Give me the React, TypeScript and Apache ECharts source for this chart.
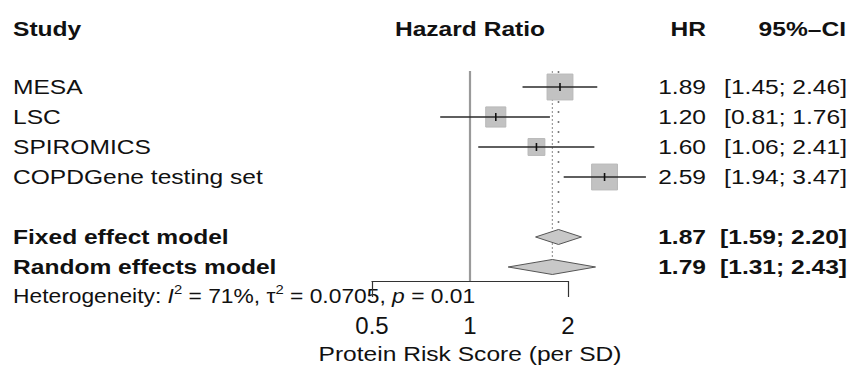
import React, { useEffect, useRef } from "react";
import * as echarts from "echarts";

const studies = ["MESA", "LSC", "SPIROMICS", "COPDGene testing set"];
const studyHR = [1.89, 1.2, 1.6, 2.59];
const studyLower = [1.45, 0.81, 1.06, 1.94];
const studyUpper = [2.46, 1.76, 2.41, 3.47];
const studyWeights = [33, 20, 14, 33];

const models = ["Fixed effect model", "Random effects model"];
const modelHR = [1.87, 1.79];
const modelLower = [1.59, 1.31];
const modelUpper = [2.2, 2.43];

const xTicks = [0.5, 1, 2];
const tickMarks = [0.5, 2];
const hetI2 = "71%";
const hetTau2 = "0.0705";
const hetP = "0.01";

const FONT = '"Liberation Sans", Arial, Helvetica, sans-serif';
const SX = 1.17;
const Y_MIN = -0.5333;
const Y_MAX = 6.4667;

export default function App() {
  const ref = useRef<HTMLDivElement>(null);
  useEffect(() => {
    if (!ref.current) return;
    const chart = echarts.init(ref.current, undefined, { renderer: "svg" });
    const studyData = studies.map((_, i) => [
      studyHR[i],
      i,
      studyLower[i],
      studyUpper[i],
      4.5 * Math.sqrt(studyWeights[i]),
    ]);
    const modelData = models.map((_, j) => [modelHR[j], 5 + j, modelLower[j], modelUpper[j]]);

    chart.setOption({
      animation: false,
      backgroundColor: "#ffffff",
      grid: { left: 372, right: 282, top: 71, bottom: 88 },
      xAxis: {
        type: "log",
        logBase: 2,
        min: 0.5,
        max: 2,
        position: "bottom",
        splitLine: { show: false },
        axisLine: { show: true, onZero: false, lineStyle: { color: "#333", width: 1.2 } },
        axisTick: { show: true, customValues: tickMarks, length: 16, lineStyle: { color: "#333", width: 1.2 } },
        axisLabel: {
          show: true,
          customValues: xTicks,
          formatter: (v: number) => String(v),
          fontFamily: FONT,
          fontSize: 24,
          color: "#111",
          margin: 32,
        },
      },
      yAxis: { type: "value", inverse: true, min: Y_MIN, max: Y_MAX, show: false },
      series: [
        {
          type: "line",
          data: [
            [1, Y_MIN],
            [1, Y_MAX],
          ],
          showSymbol: false,
          lineStyle: { color: "#9a9a9a", width: 2.2 },
          z: 1,
        },
        {
          type: "line",
          data: [
            [modelHR[0], Y_MIN],
            [modelHR[0], 5 - 0.3],
          ],
          showSymbol: false,
          lineStyle: { color: "#777", width: 1.6, type: [2, 8] },
          z: 1,
        },
        {
          type: "line",
          data: [
            [modelHR[1], Y_MIN],
            [modelHR[1], 6 - 0.3],
          ],
          showSymbol: false,
          lineStyle: { color: "#888", width: 1, type: [2, 2] },
          z: 1,
        },
        {
          type: "custom",
          clip: false,
          data: studyData,
          encode: { x: 0, y: 1 },
          z: 3,
          renderItem: (params: any, api: any) => {
            const c = api.coord([api.value(0), api.value(1)]);
            const l = api.coord([api.value(2), api.value(1)]);
            const h = api.coord([api.value(3), api.value(1)]);
            const s = api.value(4);
            return {
              type: "group",
              children: [
                {
                  type: "rect",
                  shape: { x: c[0] - s / 2, y: c[1] - s / 2, width: s, height: s },
                  style: { fill: "#c2c2c2", stroke: "#b8b8b8", lineWidth: 1 },
                },
                {
                  type: "line",
                  shape: { x1: l[0], y1: c[1], x2: h[0], y2: c[1] },
                  style: { stroke: "#2a2a2a", lineWidth: 1.6 },
                },
                {
                  type: "line",
                  shape: { x1: c[0], y1: c[1] - 4, x2: c[0], y2: c[1] + 4 },
                  style: { stroke: "#111", lineWidth: 1.6 },
                },
              ],
            };
          },
        },
        {
          type: "custom",
          clip: false,
          data: modelData,
          encode: { x: 0, y: 1 },
          z: 3,
          renderItem: (params: any, api: any) => {
            const c = api.coord([api.value(0), api.value(1)]);
            const l = api.coord([api.value(2), api.value(1)]);
            const h = api.coord([api.value(3), api.value(1)]);
            const hh = 7.5;
            return {
              type: "polygon",
              shape: {
                points: [
                  [l[0], c[1]],
                  [c[0], c[1] - hh],
                  [h[0], c[1]],
                  [c[0], c[1] + hh],
                ],
              },
              style: { fill: "#c8c8c8", stroke: "#555", lineWidth: 1 },
            };
          },
        },
      ],
    });

    const rowY = (i: number) => chart.convertToPixel({ yAxisIndex: 0 }, i) as number;
    const xMid = chart.convertToPixel({ xAxisIndex: 0 }, 1) as number;

    const t = (
      text: string,
      x: number,
      y: number,
      align: string,
      bold = false,
      size = 21,
      sx = SX
    ) => ({
      type: "text",
      x,
      y,
      scaleX: sx,
      silent: true,
      style: {
        text,
        fontFamily: FONT,
        fontSize: size,
        fontWeight: bold ? "bold" : "normal",
        fill: "#111",
        align,
        verticalAlign: "middle",
      },
    });

    const g: any[] = [];
    g.push(t("Study", 13, 29, "left", true));
    g.push(t("Hazard Ratio", 470, 29, "center", true));
    g.push(t("HR", 706, 29, "right", true));
    g.push(t("95%–CI", 846, 29, "right", true));
    studies.forEach((name, i) => {
      const y = rowY(i);
      g.push(t(name, 13, y, "left"));
      g.push(t(studyHR[i].toFixed(2), 706, y, "right"));
      g.push(t(`[${studyLower[i].toFixed(2)}; ${studyUpper[i].toFixed(2)}]`, 847, y, "right"));
    });
    models.forEach((name, j) => {
      const y = rowY(5 + j);
      g.push(t(name, 13, y, "left", true));
      g.push(t(modelHR[j].toFixed(2), 706, y, "right", true));
      g.push(t(`[${modelLower[j].toFixed(2)}; ${modelUpper[j].toFixed(2)}]`, 847, y, "right", true));
    });
    g.push({
      type: "text",
      x: 13,
      y: 296,
      scaleX: 1.14,
      silent: true,
      style: {
        text: `{n|Heterogeneity: }{i|I}{s|2}{n| = ${hetI2}, τ}{s|2}{n| = ${hetTau2}, }{i|p}{n| = ${hetP}}`,
        align: "left",
        verticalAlign: "middle",
        rich: {
          n: { fontFamily: FONT, fontSize: 20, fill: "#111", lineHeight: 26 },
          i: { fontFamily: FONT, fontSize: 20, fontStyle: "italic", fill: "#111", lineHeight: 26 },
          s: { fontFamily: FONT, fontSize: 13, fill: "#111", lineHeight: 13, verticalAlign: "top" },
        },
      },
    });
    g.push(t("Protein Risk Score (per SD)", xMid, 354, "center"));
    chart.setOption({ graphic: g });

    return () => chart.dispose();
  }, []);
  return (
    <div
      ref={ref}
      style={{ position: "fixed", left: 0, top: 0, width: 850, height: 369, background: "#fff" }}
    />
  );
}
